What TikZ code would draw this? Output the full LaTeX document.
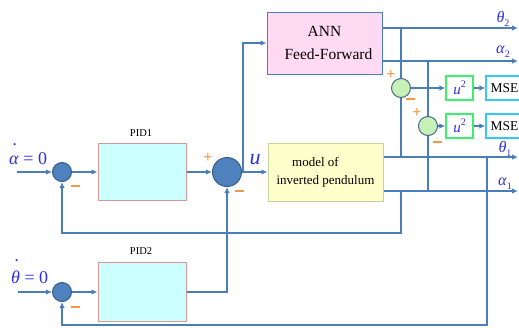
\documentclass[tikz,border=0pt]{standalone}
\usepackage{fontspec}
\setmainfont{Liberation Serif}
\usetikzlibrary{arrows.meta}

\definecolor{wire}{RGB}{74,126,187}
\definecolor{sumfill}{RGB}{79,129,189}
\definecolor{sumedge}{RGB}{56,93,138}
\definecolor{errfill}{RGB}{198,242,184}
\definecolor{erredge}{RGB}{72,104,136}
\definecolor{pidfill}{RGB}{204,255,255}
\definecolor{pidedge}{RGB}{214,150,148}
\definecolor{annfill}{RGB}{255,218,242}
\definecolor{modfill}{RGB}{255,255,204}
\definecolor{modedge}{RGB}{196,214,155}
\definecolor{sqedge}{RGB}{60,240,110}
\definecolor{mseedge}{RGB}{51,200,250}
\definecolor{signcol}{RGB}{247,150,70}
\definecolor{labcol}{RGB}{45,45,235}

% italic letter with a dot set well above it
\newcommand{\dotted}[2]{\leavevmode\rlap{\raisebox{#2}{\hspace{0.22em}\fontsize{13}{13}\selectfont\textup{\textbf{.}}}}\textit{#1}}
% italic letter with an upright subscript
\newcommand{\withsub}[2]{\textit{#1}\raisebox{-0.25em}{\fontsize{10}{10}\selectfont #2}}

\begin{document}
\begin{tikzpicture}[x=1pt,y=-1pt,
  ln/.style={draw=wire,line width=1.6pt},
  arr/.style={ln,-{Latex[length=6pt,width=5.5pt]}},
  sumnode/.style={circle,fill=sumfill,draw=sumedge,line width=1pt,inner sep=0pt},
  errnode/.style={circle,fill=errfill,draw=erredge,line width=1pt,inner sep=0pt,minimum size=19pt},
  block/.style={rectangle,line width=1pt,inner sep=0pt,align=center},
  pidbox/.style={block,fill=pidfill,draw=pidedge,minimum width=88pt,minimum height=57pt},
  sqbox/.style={block,fill=white,draw=sqedge,line width=1.2pt,minimum width=27pt,minimum height=24pt,
     font=\fontsize{15}{15}\selectfont\color{labcol}},
  msebox/.style={block,fill=white,draw=mseedge,line width=1.2pt,minimum width=45pt,minimum height=24pt,
     font=\fontsize{13.5}{14}\selectfont},
  sgn/.style={text=signcol,font=\bfseries\fontsize{16}{16}\selectfont,inner sep=0pt},
  lab/.style={text=labcol,inner sep=0pt},
  blocklab/.style={font=\fontsize{10.5}{12}\selectfont,inner sep=0pt}]

\useasboundingbox (0,0) rectangle (519,327);

% blocks
\node[pidbox] (pid1) at (142,172) {};
\node[pidbox,minimum height=59pt] (pid2) at (142,292) {};
\node[blocklab] (pid1lab) at (141,133) {PID1};
\node[blocklab] (pid2lab) at (141,251) {PID2};

\node[block,fill=annfill,draw=wire,minimum width=115pt,minimum height=62pt,
      font=\fontsize{15.5}{23}\selectfont] (ann) at (324.5,43) {ANN\\ \hspace*{8pt}Feed-Forward};
\node[block,fill=modfill,draw=modedge,minimum width=115pt,minimum height=58pt,
      font=\fontsize{13}{18}\selectfont] (model) at (325.5,172) {\hspace*{-20pt}model of\\inverted pendulum};

% summing junctions
\node[sumnode,minimum size=19pt] (sumA) at (62,172) {};
\node[sumnode,minimum size=19pt] (sumB) at (62,292) {};
\node[sumnode,minimum size=29pt] (sumU) at (227,172) {};
\node[errnode] (g1) at (401,88) {};
\node[errnode] (g2) at (428,126) {};

% squaring and MSE blocks
\node[sqbox] (sq1) at (459.5,88) {\textit{u}\raisebox{0.45em}{\fontsize{10}{10}\selectfont 2}};
\node[sqbox] (sq2) at (459.5,126) {\textit{u}\raisebox{0.45em}{\fontsize{10}{10}\selectfont 2}};
\node[msebox,text width=40pt,align=left] (mse1) at (508.5,88) {\hspace*{2pt}MSE};
\node[msebox,text width=40pt,align=left] (mse2) at (508.5,126) {\hspace*{2pt}MSE};

% outputs
\coordinate (t2e) at (518,28);
\coordinate (a2e) at (518,61);
\coordinate (t1e) at (518,157);
\coordinate (a1e) at (518,191);
\draw[arr] (ann.east |- t2e) -- (t2e);
\draw[arr] (ann.east |- a2e) -- (a2e);
\draw[arr] (model.east |- t1e) -- (t1e);
\draw[arr] (model.east |- a1e) -- (a1e);

% error taps
\draw[ln] (g1 |- t2e) -- (g1.north);
\draw[ln] (g1.south) -- (g1 |- t1e);
\draw[ln] (g2 |- a2e) -- (g2.north);
\draw[ln] (g2.south) -- (g2 |- a1e);
\draw[arr] (g1.east) -- (sq1.west);
\draw[arr] (g2.east) -- (sq2.west);
\draw[arr] (sq1.east) -- (mse1.west);
\draw[arr] (sq2.east) -- (mse2.west);

% forward path
\coordinate (inA) at (17,172);
\coordinate (inB) at (18,292);
\draw[arr] (inA) -- (sumA.west);
\draw[arr] (inB) -- (sumB.west);
\draw[arr] (sumA.east) -- (pid1.west);
\draw[arr] (sumB.east) -- (pid2.west);
\draw[arr] (pid1.east) -- (sumU.west);
\draw[arr] (pid2.east) -- (sumU |- pid2.east) -- (sumU.south);
\draw[arr] (sumU.east) -- (model.west);
\coordinate (ub) at (243,172);
\draw[arr] (ub) -- (ub |- ann.west) -- (ann.west);

% feedback paths
\coordinate (fa) at (401,233);
\coordinate (ft) at (487,325);
\draw[arr] (fa |- a1e) -- (fa) -- (sumA |- fa) -- (sumA.south);
\draw[arr] (ft |- t1e) -- (ft) -- (sumB |- ft) -- (sumB.south);

% signs
\node[sgn] (sA) at (75,186) {\rule{9pt}{2.2pt}};
\node[sgn] (sB) at (75,307) {\rule{9pt}{2.2pt}};
\node[sgn] (sUp) at (208,158) {+};
\node[sgn] (sUm) at (239,191) {\rule{9pt}{2.2pt}};
\node[sgn] (g1p) at (391,75) {+};
\node[sgn] (g1m) at (410,99) {\rule{9pt}{2.2pt}};
\node[sgn] (g2p) at (417,113) {+};
\node[sgn] (g2m) at (437,142) {\rule{9pt}{2.2pt}};

% signal labels
\node[lab,font=\fontsize{18}{18}\selectfont,anchor=base west] (lA) at (9,164) {\dotted{α}{1.05em} = 0};
\node[lab,font=\fontsize{18}{18}\selectfont,anchor=base west] (lB) at (11,283) {\dotted{θ}{1.2em} = 0};
\node[lab,font=\fontsize{22}{22}\selectfont,anchor=base] (lu) at (255,164) {\textit{u}};
\node[lab,font=\fontsize{16}{16}\selectfont,anchor=base] (l1) at (503,22) {\withsub{θ}{2}};
\node[lab,font=\fontsize{16}{16}\selectfont,anchor=base] (l2) at (503,53) {\withsub{α}{2}};
\node[lab,font=\fontsize{16}{16}\selectfont,anchor=base] (l3) at (505,152) {\withsub{θ}{1}};
\node[lab,font=\fontsize{16}{16}\selectfont,anchor=base] (l4) at (505,185) {\withsub{α}{1}};
\end{tikzpicture}
\end{document}
